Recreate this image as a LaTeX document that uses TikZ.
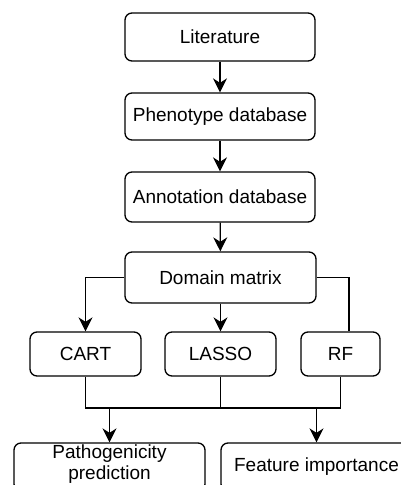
\documentclass[tikz,border=0pt]{standalone}
\usepackage{fontspec}
\setmainfont{Liberation Sans}
\usetikzlibrary{arrows.meta}
\begin{document}
\begin{tikzpicture}[x=1pt,y=-1pt,
  box/.style={draw, line width=1.3pt, rounded corners=7pt, inner sep=0pt,
    font=\fontsize{19}{21.5}\selectfont, align=center},
  conn/.style={line width=1.2pt},
  arr/.style={conn, -{Stealth[length=14pt,width=14pt,inset=4.5pt]}}]
\fill[white] (0,0) rectangle (400,485);
\useasboundingbox (0,0) rectangle (400,485);
\node[box, minimum width=190pt, minimum height=48pt] (lit) at (220,37) {Literature};
\node[box, minimum width=190pt, minimum height=47pt] (phen) at (220,116.5) {Phenotype database};
\node[box, minimum width=190pt, minimum height=50pt] (ann) at (220,197) {Annotation database};
\node[box, minimum width=191pt, minimum height=51pt] (dom) at (220.5,277.5) {Domain matrix};
\node[box, minimum width=111pt, minimum height=44pt] (cart) at (85.5,354) {CART};
\node[box, minimum width=111pt, minimum height=44pt] (lasso) at (220.5,354) {LASSO};
\node[box, minimum width=79pt, minimum height=44pt] (rf) at (340.5,354) {RF};
\node[box, minimum width=191pt, minimum height=48pt] (path) at (109.5,467) {};
\node[font=\fontsize{19}{21.5}\selectfont, align=center, inner sep=0pt] (pathtxt) at (109.5,464) {Pathogenicity\\prediction};
\node[box, minimum width=191pt, minimum height=48pt] (feat) at (316.5,467) {Feature importance};
\coordinate (jl) at (86,408);
\draw[arr] (lit) -- (phen);
\draw[arr] (phen) -- (ann);
\draw[arr] (ann) -- (dom);
\draw[arr] (dom.west) -| (cart.north);
\draw[arr] (dom) -- (lasso);
\draw[conn] (dom.east) -| ([xshift=8.5pt]rf.north);
\draw[conn] (cart.south) -- (cart.south |- jl) -- (rf.south |- jl) -- (rf.south);
\draw[conn] (lasso.south) -- (lasso.south |- jl);
\draw[arr] (path.north |- jl) -- (path.north);
\draw[arr] (feat.north |- jl) -- (feat.north);
\end{tikzpicture}
\end{document}
